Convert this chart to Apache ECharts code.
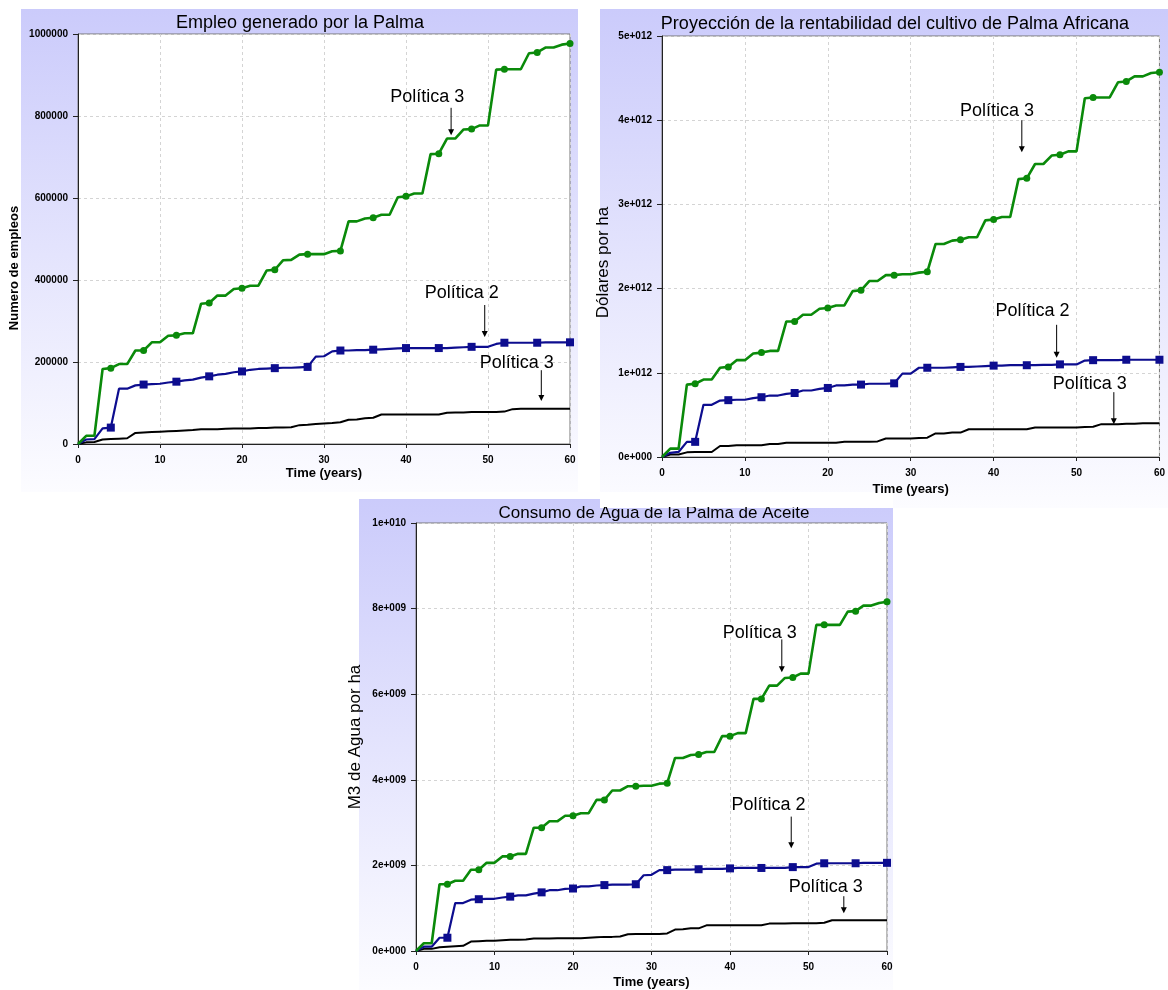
<!DOCTYPE html>
<html><head><meta charset="utf-8">
<script src="https://cdn.jsdelivr.net/npm/echarts@6/dist/echarts.min.js"></script>
<style>html,body{margin:0;padding:0;background:#fff}#c{width:1168px;height:990px}</style>
</head><body><div id="c"></div>
<script>
// ---------- DATA ----------
const years = [0,1,2,3,4,5,6,7,8,9,10,11,12,13,14,15,16,17,18,19,20,21,22,23,24,25,26,27,28,29,30,31,32,33,34,35,36,37,38,39,40,41,42,43,44,45,46,47,48,49,50,51,52,53,54,55,56,57,58,59,60];
const xTicks = ['0','10','20','30','40','50','60'];

// Panel 1: Empleo (número de empleos)
const empleoP3 = [0,20000,20000,183000,185000,195000,195000,228000,228000,248000,248000,264000,265000,270000,270000,342000,344000,362000,362000,378000,380000,386000,386000,423000,425000,448000,449000,462000,463000,463000,463000,470000,471000,543000,543000,550000,552000,559000,559000,602000,604000,611000,611000,707000,708000,745000,745000,767000,768000,777000,777000,913000,914000,914000,914000,953000,955000,967000,967000,974000,977000];
const empleoP2 = [0,11000,12000,38000,40000,135000,135000,143000,145000,146000,147000,150000,152000,155000,157000,162000,165000,169000,171000,175000,177000,181000,183000,184000,185000,186000,186000,187000,188000,213000,214000,226000,228000,228000,229000,229000,230000,231000,232000,233000,234000,234000,234000,234000,234000,234000,235000,236000,237000,237000,237000,244000,247000,247000,247000,247000,247000,248000,248000,248000,248000];
const empleoP1 = [0,4000,5000,11000,12000,13000,14000,27000,28000,29000,30000,31000,32000,33000,34000,36000,36000,36000,37000,38000,38000,38000,39000,39000,40000,40000,41000,46000,47000,49000,50000,51000,53000,59000,60000,63000,64000,72000,72000,72000,72000,72000,72000,72000,72000,76000,77000,77000,78000,78000,78000,78000,79000,85000,86000,86000,86000,86000,86000,86000,86000];
const empleoTicks = ['0','200000','400000','600000','800000','1000000'];

// Panel 2: Rentabilidad (dólares por ha, unidades de 1e12)
const rentaP3 = [0,0.10,0.10,0.86,0.87,0.92,0.92,1.06,1.07,1.15,1.15,1.23,1.24,1.26,1.26,1.61,1.61,1.69,1.69,1.76,1.77,1.80,1.80,1.97,1.98,2.09,2.09,2.16,2.16,2.17,2.17,2.19,2.20,2.53,2.53,2.57,2.58,2.61,2.61,2.81,2.82,2.85,2.85,3.30,3.31,3.48,3.48,3.58,3.59,3.63,3.63,4.26,4.27,4.27,4.27,4.45,4.46,4.52,4.52,4.56,4.57];
const rentaP2 = [0,0.05,0.06,0.18,0.18,0.62,0.62,0.67,0.675,0.68,0.68,0.70,0.71,0.73,0.73,0.75,0.76,0.79,0.79,0.81,0.82,0.85,0.85,0.86,0.86,0.87,0.87,0.87,0.875,0.99,0.99,1.06,1.06,1.06,1.06,1.065,1.07,1.07,1.075,1.08,1.085,1.085,1.09,1.09,1.09,1.09,1.095,1.095,1.10,1.10,1.10,1.145,1.15,1.15,1.15,1.15,1.155,1.155,1.155,1.155,1.155];
const rentaP1 = [0,0.03,0.03,0.055,0.06,0.06,0.06,0.13,0.13,0.14,0.14,0.14,0.14,0.155,0.155,0.17,0.17,0.17,0.17,0.17,0.17,0.17,0.18,0.18,0.18,0.18,0.185,0.22,0.22,0.22,0.22,0.225,0.23,0.28,0.28,0.29,0.29,0.33,0.33,0.33,0.33,0.33,0.33,0.33,0.33,0.35,0.35,0.35,0.35,0.35,0.35,0.355,0.36,0.39,0.39,0.39,0.395,0.395,0.40,0.40,0.40];
const rentaTicks = ['0e+000','1e+012','2e+012','3e+012','4e+012','5e+012'];

// Panel 3: Consumo de agua (M3 por ha, unidades de 1e9)
const aguaP3 = [0,0.18,0.18,1.56,1.56,1.64,1.64,1.90,1.90,2.06,2.06,2.21,2.21,2.27,2.27,2.88,2.88,3.03,3.03,3.16,3.16,3.22,3.22,3.53,3.53,3.75,3.75,3.85,3.85,3.86,3.86,3.91,3.92,4.51,4.51,4.58,4.59,4.65,4.65,5.02,5.02,5.09,5.09,5.89,5.89,6.20,6.20,6.38,6.39,6.48,6.48,7.62,7.62,7.62,7.62,7.93,7.94,8.07,8.07,8.13,8.16];
const aguaP2 = [0,0.10,0.10,0.31,0.31,1.12,1.12,1.20,1.21,1.22,1.22,1.25,1.27,1.30,1.30,1.34,1.37,1.42,1.42,1.45,1.46,1.51,1.51,1.53,1.54,1.55,1.55,1.55,1.56,1.77,1.78,1.89,1.89,1.90,1.90,1.90,1.91,1.92,1.92,1.92,1.93,1.94,1.94,1.94,1.94,1.94,1.94,1.94,1.96,1.96,1.96,2.04,2.05,2.05,2.05,2.05,2.05,2.06,2.06,2.06,2.06];
const aguaP1 = [0,0.05,0.05,0.09,0.10,0.11,0.12,0.22,0.23,0.24,0.24,0.25,0.26,0.26,0.27,0.29,0.29,0.29,0.30,0.30,0.30,0.30,0.31,0.32,0.33,0.33,0.34,0.39,0.40,0.40,0.40,0.40,0.41,0.50,0.51,0.53,0.53,0.60,0.60,0.60,0.60,0.60,0.60,0.60,0.60,0.64,0.64,0.64,0.65,0.65,0.65,0.65,0.66,0.72,0.72,0.72,0.72,0.72,0.72,0.72,0.72];
const aguaTicks = ['0e+000','2e+009','4e+009','6e+009','8e+009','1e+010'];

const titles = ['Empleo generado por la Palma','Proyección de la rentabilidad del cultivo de Palma Africana','Consumo de Agua de la Palma de Aceite'];
const yNames = ['Numero de empleos','Dólares por ha','M3 de Agua por ha'];
const xName = 'Time (years)';

// annotations in data coordinates: [panel, text, textX, textY, arrowX, arrowFromY, arrowToY]
const annotations = [
  [0,'Política 3',42.6,846000,45.5,820000,753000],
  [0,'Política 2',46.8,368000,49.6,339000,261000],
  [0,'Política 3',53.5,198000,56.5,180000,105000],
  [1,'Política 3',40.4,4.11,43.4,4.00,3.62],
  [1,'Política 2',44.7,1.73,47.6,1.57,1.18],
  [1,'Política 3',51.6,0.87,54.5,0.77,0.39],
  [2,'Política 3',43.8,7.44,46.6,7.28,6.51],
  [2,'Política 2',44.9,3.42,47.8,3.14,2.40],
  [2,'Política 3',52.2,1.49,54.5,1.28,0.88]
];

// ---------- LAYOUT / STYLE ----------
const FONT = "'Liberation Sans', Arial, Helvetica, sans-serif";
const grids = [
  {left:78, top:34, width:492, height:410},
  {left:662, top:36, width:498, height:421},
  {left:416, top:523, width:471, height:429}
];
const panels = [
  {x:21, y:9, w:557, h:483},
  {x:600, y:9, w:568, h:499},
  {x:359, y:499, w:534, h:491}
];
const yCfg = [
  {max:1000000, interval:200000, ticks:empleoTicks, nameSize:13, nameWeight:'bold', nameGap:57, pad:[0,58,0,0]},
  {max:5, interval:1, ticks:rentaTicks, nameSize:17, nameWeight:'normal', nameGap:50, pad:[0,32,0,0]},
  {max:10, interval:2, ticks:aguaTicks, nameSize:17, nameWeight:'normal', nameGap:52, pad:0}
];
const seriesSets = [
  [empleoP1, empleoP2, empleoP3],
  [rentaP1, rentaP2, rentaP3],
  [aguaP1, aguaP2, aguaP3]
];
const xNameGaps = [23, 26, 25];

const pairs = arr => years.map((y,i)=>[y, arr[i]]);
const markerSize = s => (v, p) => (p.dataIndex > 0 && p.dataIndex % 4 === 0) ? s : 0;

const grid = grids.map(g => Object.assign({}, g, {show:true, backgroundColor:'#fff', borderColor:'#777', borderWidth:1, containLabel:false}));
const xAxis = grids.map((g,i) => ({
  type:'value', gridIndex:i, min:0, max:60, interval:10,
  name:xName, nameLocation:'middle', nameGap:xNameGaps[i],
  nameTextStyle:{fontFamily:FONT, fontWeight:'bold', fontSize:13, color:'#000', verticalAlign:'top'},
  axisLine:{show:true, onZero:false, lineStyle:{color:'#222', width:1}},
  axisTick:{show:true, length:4, lineStyle:{color:'#222'}},
  axisLabel:{fontFamily:FONT, fontWeight:'bold', fontSize:10, color:'#000', margin:11,
    formatter:v => xTicks[Math.round(v/10)]},
  splitLine:{show:true, lineStyle:{color:'#d4d4d4', type:[3,3], width:1}}
}));
const yAxis = yCfg.map((c,i) => ({
  type:'value', gridIndex:i, min:0, max:c.max, interval:c.interval,
  name:yNames[i], nameLocation:'middle', nameGap:c.nameGap,
  nameTextStyle:{fontFamily:FONT, fontWeight:c.nameWeight, fontSize:c.nameSize, color:'#000', padding:c.pad},
  axisLine:{show:true, onZero:false, lineStyle:{color:'#222', width:1}},
  axisTick:{show:true, length:5, lineStyle:{color:'#222'}},
  axisLabel:{fontFamily:FONT, fontWeight:'bold', fontSize:10, color:'#000', margin:10,
    formatter:v => c.ticks[Math.round(v/c.interval)]},
  splitLine:{show:true, lineStyle:{color:'#d4d4d4', type:[3,3], width:1}}
}));

const series = [];
seriesSets.forEach((set,i) => {
  series.push({type:'line', xAxisIndex:i, yAxisIndex:i, data:pairs(set[0]), symbol:'none',
    lineStyle:{color:'#000', width:2}, z:3});
  series.push({type:'line', xAxisIndex:i, yAxisIndex:i, data:pairs(set[1]), symbol:'rect', showAllSymbol:true,
    symbolSize:markerSize(8), itemStyle:{color:'#0d0d8f'}, lineStyle:{color:'#0d0d8f', width:2.2}, z:4});
  series.push({type:'line', xAxisIndex:i, yAxisIndex:i, data:pairs(set[2]), symbol:'circle', showAllSymbol:true,
    symbolSize:markerSize(7), itemStyle:{color:'#0a8a0a'}, lineStyle:{color:'#0a8a0a', width:2.6}, z:5});
});

const chart = echarts.init(document.getElementById('c'), null, {renderer:'canvas'});
chart.setOption({animation:false, backgroundColor:'#fff', grid, xAxis, yAxis, series});

// ---------- GRAPHIC: backgrounds, titles, annotations ----------
const elements = [];
panels.forEach((p,i) => {
  elements.push({type:'rect', z:-10, silent:true, shape:{x:p.x, y:p.y, width:p.w, height:p.h},
    style:{fill:new echarts.graphic.LinearGradient(0,0,0,1,[{offset:0,color:'#cbcbfb'},{offset:1,color:'#fcfcff'}])}});
});
// panel 2 lower edge overlapping the top of panel 3
elements.push({type:'rect', z:-9, silent:true, shape:{x:600, y:492, width:293, height:16}, style:{fill:'#fff'}});
const titleCenters = [[300,23],[895,24],[654,513]];
const titleSizes = [18, 18, 17];
titles.forEach((t,i) => {
  elements.push({type:'text', z:6, silent:true, x:titleCenters[i][0], y:titleCenters[i][1],
    style:{text:t, font:titleSizes[i]+'px '+FONT, fill:'#000', textAlign:'center', textVerticalAlign:'middle'}});
});
elements.push({type:'rect', z:50, silent:true, shape:{x:600, y:495, width:293, height:12}, style:{fill:'#fff'}});

annotations.forEach(a => {
  const [pi, txt, tx, ty, ax, ay1, ay2] = a;
  const tp = chart.convertToPixel({gridIndex:pi}, [tx, ty]);
  const p1 = chart.convertToPixel({gridIndex:pi}, [ax, ay1]);
  const p2 = chart.convertToPixel({gridIndex:pi}, [ax, ay2]);
  elements.push({type:'text', z:20, silent:true, x:tp[0], y:tp[1],
    style:{text:txt, font:'18px '+FONT, fill:'#000', textAlign:'center', textVerticalAlign:'middle'}});
  elements.push({type:'line', z:20, silent:true, shape:{x1:p1[0], y1:p1[1], x2:p2[0], y2:p2[1]-5},
    style:{stroke:'#000', lineWidth:1}});
  elements.push({type:'polygon', z:20, silent:true,
    shape:{points:[[p2[0]-3, p2[1]-6],[p2[0]+3, p2[1]-6],[p2[0], p2[1]]]}, style:{fill:'#000'}});
});
chart.setOption({graphic:{elements}});
</script>
</body></html>
